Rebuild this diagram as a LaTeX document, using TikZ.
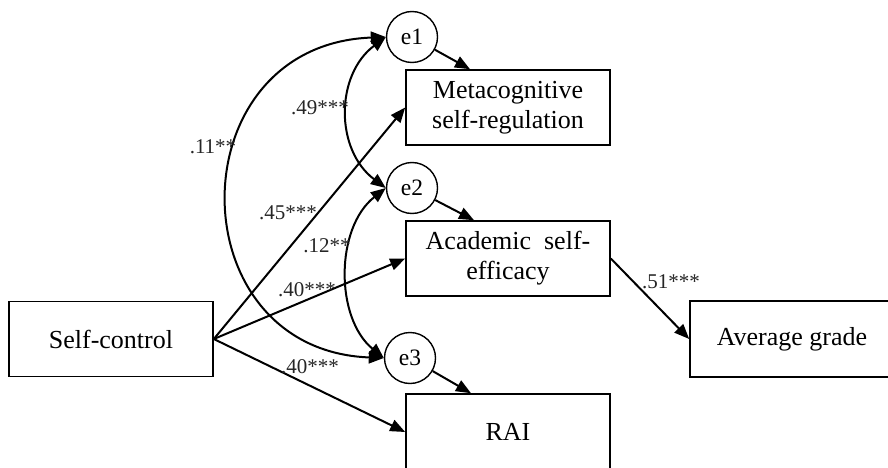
\documentclass[tikz,border=0pt]{standalone}
\usepackage{fontspec}
\setmainfont{Liberation Serif}
\usetikzlibrary{arrows.meta}
\begin{document}
\begin{tikzpicture}[x=1pt,y=-1pt,
  varbox/.style={draw,line width=1.6pt,minimum width=204pt,minimum height=75pt,inner sep=0pt,align=center,
    font=\fontsize{26}{30}\selectfont},
  errc/.style={draw,line width=1.4pt,circle,minimum size=51pt,inner sep=0pt,font=\fontsize{23.5}{24}\selectfont},
  path/.style={line width=2pt,-{Triangle[length=15pt,width=12pt]}},
  cov/.style={line width=2pt,{Triangle[length=15pt,width=12pt]}-{Triangle[length=15pt,width=12pt]}},
  coef/.style={inner sep=0pt,font=\fontsize{21}{22}\selectfont,text=black!85}]
\useasboundingbox (0,0) rectangle (888,468);
\clip (0,0) rectangle (888,468);
% boxes
\node[varbox] (sc) at (111,339) {Self-control};
\node[varbox] (meta) at (508,107.5) {Metacognitive\\self-regulation};
\node[varbox] (acad) at (508,258.5) {Academic\hspace{0.5em}self-\\efficacy};
\node[varbox,minimum height=76pt] (rai) at (508,432) {RAI};
\node[varbox,minimum height=76pt] (avg) at (792,339) {Average grade};
% error terms
\node[errc] (e1) at (412,37) {e1};
\node[errc] (e2) at (412,188) {e2};
\node[errc] (e3) at (410,358) {e3};
% error paths
\draw[path] (e1) -- ([xshift=-38pt]meta.north);
\draw[path] (e2) -- ([xshift=-34pt]acad.north);
\draw[path] (e3) -- ([xshift=-37pt]rai.north);
% structural paths
\draw[path] (sc.east) -- (meta.west);
\draw[path] (sc.east) -- (acad.west);
\draw[path] (sc.east) -- (rai.west);
\draw[path] (acad.east) -- (avg.west);
% covariances
\draw[cov] (e1.west) .. controls (176,45) and (176,350) .. (e3.west);
\draw[cov] (e1.west) .. controls (335,75) and (335,150) .. (e2.west);
\draw[cov] (e2.west) .. controls (335,228) and (335,318) .. (e3.west);
% coefficients
\node[coef] (c11) at (213,147) {.11**};
\node[coef] (c49) at (320,108) {.49***};
\node[coef] (c45) at (288,213) {.45***};
\node[coef] (c12) at (327,246) {.12**};
\node[coef] (c40a) at (307,290) {.40***};
\node[coef] (c40b) at (310,367) {.40***};
\node[coef] (c51) at (671,282) {.51***};
\end{tikzpicture}
\end{document}
